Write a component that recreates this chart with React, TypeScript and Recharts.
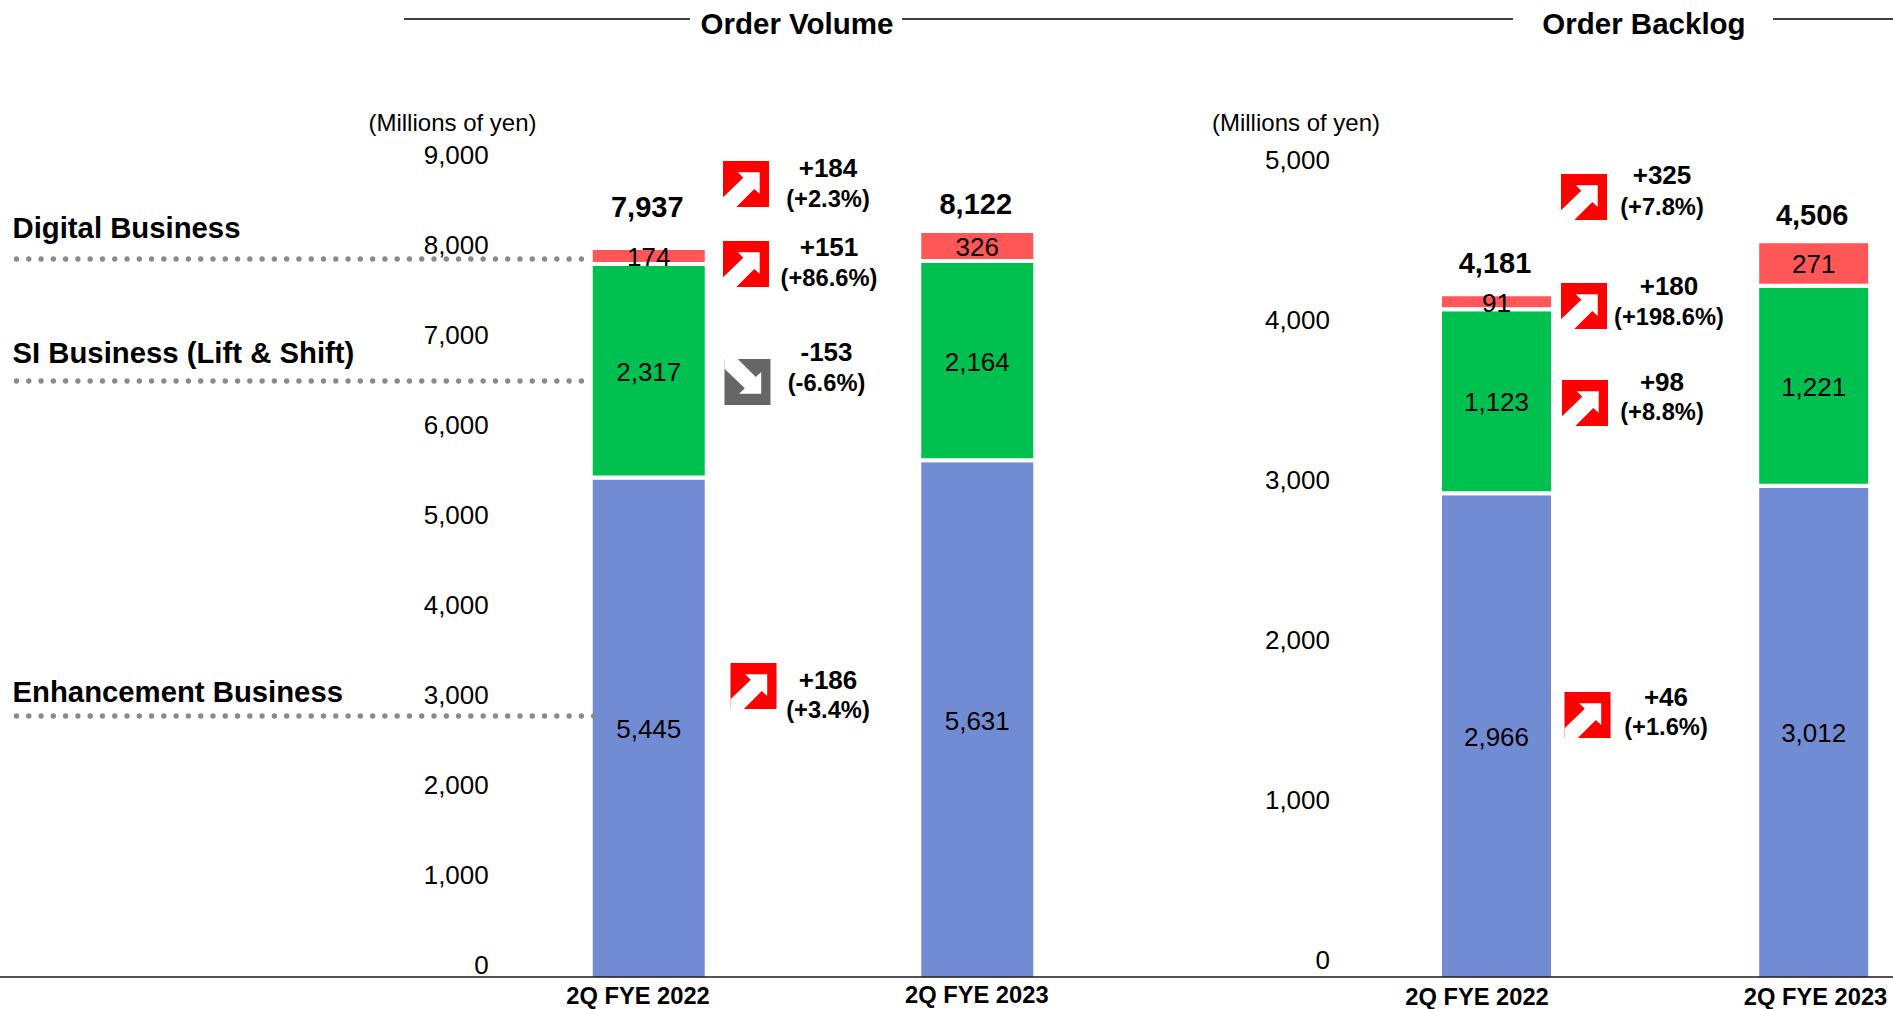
import React from 'react';
import { BarChart, Bar, XAxis, YAxis, LabelList } from 'recharts';

// ---- figures ----
const periods = ['2Q FYE 2022', '2Q FYE 2023'];

const volumeEnhancement = [5445, 5631];
const volumeLiftShift = [2317, 2164];
const volumeDigital = [174, 326];
const volumeTotals = [7937, 8122];
const volumeTicks = [0, 1000, 2000, 3000, 4000, 5000, 6000, 7000, 8000, 9000];

const backlogEnhancement = [2966, 3012];
const backlogLiftShift = [1123, 1221];
const backlogDigital = [91, 271];
const backlogTotals = [4181, 4506];
const backlogTicks = [0, 1000, 2000, 3000, 4000, 5000];

const volumeChanges = ['+184', '+151', '-153', '+186'];
const volumeRates = ['(+2.3%)', '(+86.6%)', '(-6.6%)', '(+3.4%)'];
const backlogChanges = ['+325', '+180', '+98', '+46'];
const backlogRates = ['(+7.8%)', '(+198.6%)', '(+8.8%)', '(+1.6%)'];

const businessNames = ['Digital Business', 'SI Business (Lift & Shift)', 'Enhancement Business'];

const toRows = (a: number[], b: number[], c: number[], t: number[]) =>
  periods.map((period, i) => ({ period, enhancement: a[i], liftShift: b[i], digital: c[i], total: t[i] }));

const volumeRows = toRows(volumeEnhancement, volumeLiftShift, volumeDigital, volumeTotals);
const backlogRows = toRows(backlogEnhancement, backlogLiftShift, backlogDigital, backlogTotals);

// ---- styling and annotation placement ----
const FONT = '"Liberation Sans", Arial, sans-serif';
const BLUE = '#728CD3';
const GREEN = '#00C150';
const CORAL = '#FF5757';
const fmt = (v: number) => v.toLocaleString('en-US');

const volumeBadges = [
  { x: 723, y: 161, up: true, cx: 828, y1: 168, y2: 199 },
  { x: 723, y: 241, up: true, cx: 829, y1: 247, y2: 278 },
  { x: 724.5, y: 359, up: false, cx: 826.5, y1: 352, y2: 383 },
  { x: 730.5, y: 663, up: true, cx: 828, y1: 680, y2: 710 },
];
const backlogBadges = [
  { x: 1561, y: 174, up: true, cx: 1662, y1: 175, y2: 207 },
  { x: 1561, y: 283, up: true, cx: 1669, y1: 286, y2: 317 },
  { x: 1562, y: 380, up: true, cx: 1662, y1: 382, y2: 412 },
  { x: 1564.5, y: 692, up: true, cx: 1666, y1: 697, y2: 727 },
];
const leaders = [
  { text: 227, line: 259, end: 583.5 },
  { text: 352, line: 381, end: 583.5 },
  { text: 691, line: 716, end: 595 },
];

const Badge = ({ x, y, up }: { x: number; y: number; up: boolean }) => {
  const pts = [
    [36.7, 11.3], [14.7, 11.3], [20.3, 16.7], [0, 36.3], [0, 46], [13.3, 46], [31.3, 28], [36.7, 33],
  ];
  const mapped = pts.map(([px, py]) => `${x + px},${y + (up ? py : 46 - py)}`).join(' ');
  return (
    <g>
      <rect x={x} y={y} width={46} height={46} fill={up ? '#FF0000' : '#666666'} />
      <polygon points={mapped} fill="#FFFFFF" />
    </g>
  );
};

const Note = ({ x, y, size, bold, anchor, children }: any) => (
  <text
    x={x}
    y={y}
    fontSize={size}
    fontWeight={bold ? 700 : 400}
    textAnchor={anchor ?? 'middle'}
    dominantBaseline="central"
    fill="#000"
    fontFamily={FONT}
  >
    {children}
  </text>
);

const Annotations = () => (
  <svg width={1893} height={1009} style={{ position: 'absolute', left: 0, top: 0 }}>
    {/* section rules and headings */}
    <g stroke="#404040" strokeWidth={2}>
      <line x1={404} y1={19} x2={690} y2={19} />
      <line x1={902} y1={19} x2={1513} y2={19} />
      <line x1={1773} y1={19} x2={1893} y2={19} />
    </g>
    <Note x={797} y={23} size={29.5} bold>Order Volume</Note>
    <Note x={1644} y={23} size={29.5} bold>Order Backlog</Note>
    <Note x={452.5} y={122} size={24}>(Millions of yen)</Note>
    <Note x={1296} y={122} size={24}>(Millions of yen)</Note>

    {businessNames.map((name, i) => (
      <Note key={name} x={12.5} y={leaders[i].text} size={29.3} bold anchor="start">{name}</Note>
    ))}

    {/* year-on-year changes */}
    {volumeBadges.map((b, i) => (
      <g key={volumeChanges[i]}>
        <Badge x={b.x} y={b.y} up={b.up} />
        <Note x={b.cx} y={b.y1} size={26} bold>{volumeChanges[i]}</Note>
        <Note x={b.cx} y={b.y2} size={23.7} bold>{volumeRates[i]}</Note>
      </g>
    ))}
    {backlogBadges.map((b, i) => (
      <g key={backlogChanges[i]}>
        <Badge x={b.x} y={b.y} up={b.up} />
        <Note x={b.cx} y={b.y1} size={26} bold>{backlogChanges[i]}</Note>
        <Note x={b.cx} y={b.y2} size={23.7} bold>{backlogRates[i]}</Note>
      </g>
    ))}
  </svg>
);

// Baseline and dotted leaders lie over the bars.
const TopLayer = () => (
  <svg width={1893} height={1009} style={{ position: 'absolute', left: 0, top: 0 }}>
    {leaders.map((l) => (
      <line
        key={l.line}
        x1={16.5}
        y1={l.line}
        x2={l.end}
        y2={l.line}
        stroke="#8A8A8A"
        strokeWidth={5.4}
        strokeLinecap="round"
        strokeDasharray="0 12.28"
      />
    ))}
    <line x1={0} y1={977} x2={1893} y2={977} stroke="#1A1A1A" strokeWidth={1.6} />
  </svg>
);

// Value-axis numerals sit a little above their gridline position, so they get their own scale.
const valueTick = (shift: number) => (props: any) => (
  <text
    x={props.x + shift}
    y={props.y}
    textAnchor="end"
    dominantBaseline="central"
    fontSize={26}
    fill="#000"
    fontFamily={FONT}
  >
    {fmt(props.payload.value)}
  </text>
);

const periodTick = (nudge: number[][]) => (props: any) => (
  <text
    x={props.x + nudge[props.index][0]}
    y={props.y + nudge[props.index][1]}
    textAnchor="middle"
    dominantBaseline="central"
    fontSize={23.7}
    fontWeight={700}
    fill="#000"
    fontFamily={FONT}
  >
    {props.payload.value}
  </text>
);

const segmentLabel = (props: any) => (
  <text
    x={props.x + props.width / 2}
    y={props.y + props.height / 2 + 1}
    textAnchor="middle"
    dominantBaseline="central"
    fontSize={26}
    fill="#000"
    fontFamily={FONT}
  >
    {fmt(props.value)}
  </text>
);

const totalLabel = (lifts: number[]) => (props: any) => (
  <text
    x={props.x + props.width / 2 - 1.5}
    y={props.y - lifts[props.index]}
    textAnchor="middle"
    dominantBaseline="central"
    fontSize={29}
    fontWeight={700}
    fill="#000"
    fontFamily={FONT}
  >
    {fmt(props.value)}
  </text>
);

type PanelProps = {
  rows: any[];
  ticks: number[];
  valueTop: number;
  labelDomain: number[];
  chartWidth: number;
  left: number;
  right: number;
  top: number;
  barSize: number;
  tickShift: number;
  nudge: number[][];
  lifts: number[];
};

const Panel = ({ rows, ticks, valueTop, labelDomain, chartWidth, left, right, top, barSize, tickShift, nudge, lifts }: PanelProps) => (
  <div style={{ position: 'absolute', left: 0, top: 0 }}>
    <BarChart
      width={chartWidth}
      height={1009}
      data={rows}
      margin={{ left, right, top, bottom: 0 }}
      barSize={barSize}
      style={{ fontFamily: FONT }}
    >
      <XAxis
        dataKey="period"
        height={30}
        axisLine={false}
        tickLine={false}
        tickSize={0}
        tickMargin={0}
        interval={0}
        tick={periodTick(nudge)}
      />
      <YAxis yAxisId="value" hide domain={[0, valueTop]} />
      <YAxis
        yAxisId="numerals"
        width={60}
        domain={labelDomain}
        ticks={ticks}
        interval={0}
        allowDataOverflow
        axisLine={false}
        tickLine={false}
        tickSize={0}
        tickMargin={0}
        tick={valueTick(tickShift)}
      />
      <Bar yAxisId="value" dataKey="enhancement" stackId="s" fill={BLUE} stroke="#fff" strokeWidth={4} isAnimationActive={false}>
        <LabelList dataKey="enhancement" content={segmentLabel} />
      </Bar>
      <Bar yAxisId="value" dataKey="liftShift" stackId="s" fill={GREEN} stroke="#fff" strokeWidth={4} isAnimationActive={false}>
        <LabelList dataKey="liftShift" content={segmentLabel} />
      </Bar>
      <Bar yAxisId="value" dataKey="digital" stackId="s" fill={CORAL} stroke="#fff" strokeWidth={4} isAnimationActive={false}>
        <LabelList dataKey="digital" content={segmentLabel} />
        <LabelList dataKey="total" content={totalLabel(lifts)} />
      </Bar>
    </BarChart>
  </div>
);

export default function App() {
  return (
    <div style={{ position: 'absolute', left: 0, top: 0, width: 1893, height: 1009, overflow: 'hidden', background: '#fff' }}>
      <Annotations />
      <Panel
        rows={volumeRows}
        ticks={volumeTicks}
        valueTop={9000}
        labelDomain={[-155.6, 9055.6]}
        chartWidth={1893}
        left={424.75}
        right={751.25}
        top={150}
        barSize={116}
        tickShift={4}
        nudge={[[-11, 16.7], [-0.7, 16]]}
        lifts={[41, 27]}
      />
      <Panel
        rows={backlogRows}
        ticks={backlogTicks}
        valueTop={5000}
        labelDomain={[-118.75, 5000]}
        chartWidth={2000}
        left={1278}
        right={27.6}
        top={160}
        barSize={113}
        tickShift={-8}
        nudge={[[-19.6, 18], [1.7, 17.5]]}
        lifts={[31, 26]}
      />
      <TopLayer />
    </div>
  );
}
